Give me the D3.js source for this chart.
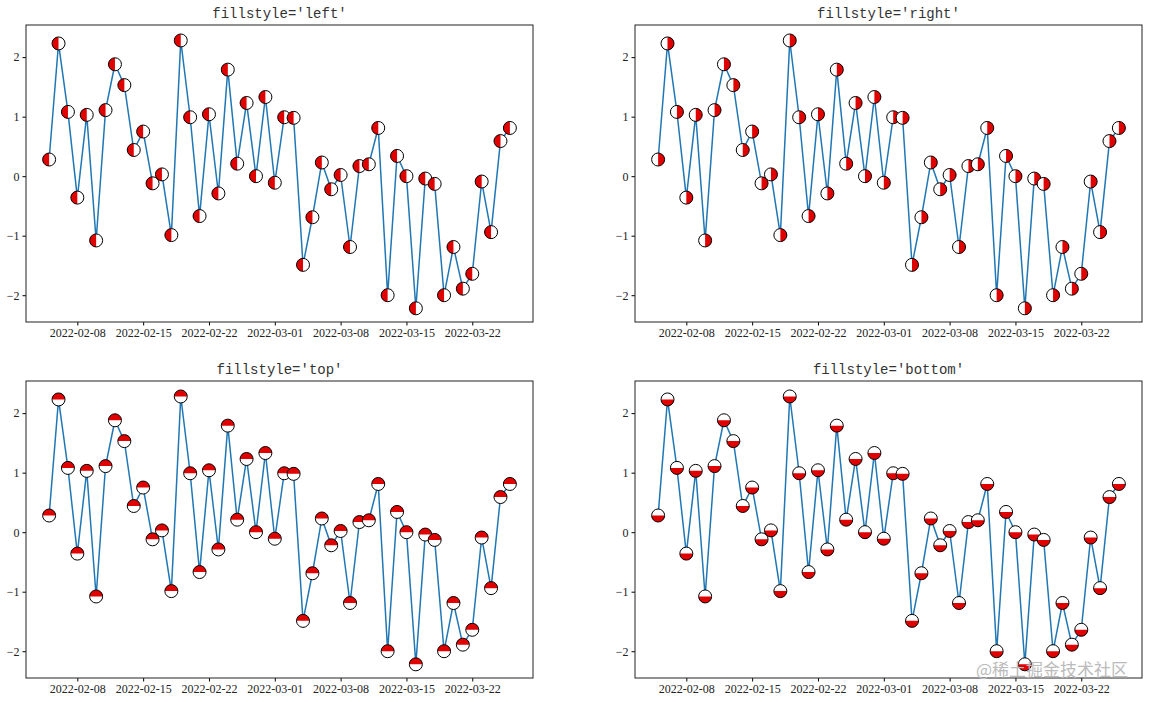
<!DOCTYPE html>
<html><head><meta charset="utf-8">
<script src="https://cdn.jsdelivr.net/npm/d3@7"></script>
<style>body{margin:0;background:#fff}text{font-family:"Liberation Serif","DejaVu Serif",serif}</style>
</head><body><svg id="chart" width="1149" height="702"></svg>
<script>
const startDate = "2022-02-05";
const values = [0.28, 2.23, 1.08, -0.36, 1.03, -1.08, 1.11, 1.88, 1.53, 0.44,
  0.75, -0.12, 0.03, -0.99, 2.28, 0.99, -0.67, 1.04, -0.29, 1.79,
  0.21, 1.23, 0.0, 1.33, -0.11, 0.99, 0.98, -1.49, -0.69, 0.23,
  -0.22, 0.02, -1.19, 0.17, 0.2, 0.81, -2.0, 0.34, 0.0, -2.22,
  -0.04, -0.13, -2.0, -1.19, -1.89, -1.64, -0.09, -0.94, 0.59, 0.81];
const fillstyles = ["left", "right", "top", "bottom"];
const xTicks = ["2022-02-08", "2022-02-15", "2022-02-22", "2022-03-01", "2022-03-08", "2022-03-15", "2022-03-22"];
const yTicks = [-2, -1, 0, 1, 2];

const parse = d3.utcParse("%Y-%m-%d");
const t0 = parse(startDate);
const data = values.map((v, i) => ({date: d3.utcDay.offset(t0, i), value: v}));

const svg = d3.select("#chart");
const panels = [
  {x: 26, y: 25}, {x: 635, y: 25}, {x: 26, y: 381}, {x: 635, y: 381}
];
const W = 507, H = 297;
// red half angles for d3.arc (0 = top, clockwise)
const halves = {
  left: [Math.PI, 2 * Math.PI], right: [0, Math.PI],
  top: [-Math.PI / 2, Math.PI / 2], bottom: [Math.PI / 2, 3 * Math.PI / 2]
};
const r = 6.5;

fillstyles.forEach((fs, k) => {
  const p = panels[k];
  const g = svg.append("g").attr("transform", `translate(${p.x},${p.y})`);
  const x = d3.scaleUtc()
    .domain([d3.utcHour.offset(data[0].date, -59), d3.utcHour.offset(data[data.length - 1].date, 59)])
    .range([0, W]);
  const y = d3.scaleLinear().domain([-2.45, 2.54]).range([H, 0]);

  g.append("g").attr("transform", `translate(0,${H})`)
    .call(d3.axisBottom(x).tickValues(xTicks.map(parse)).tickFormat(d3.utcFormat("%Y-%m-%d")).tickSize(3.5))
    .call(a => a.select(".domain").remove())
    .selectAll("text").attr("font-size", 12).attr("fill", "#222");
  g.append("g")
    .call(d3.axisLeft(y).tickValues(yTicks).tickFormat(d => d < 0 ? "\u2212" + (-d) : d).tickSize(3.5))
    .call(a => a.select(".domain").remove())
    .selectAll("text").attr("font-size", 12).attr("fill", "#222");
  g.append("rect").attr("width", W).attr("height", H)
    .attr("fill", "none").attr("stroke", "#222").attr("stroke-width", 1);

  g.append("path").datum(data)
    .attr("fill", "none").attr("stroke", "#1f77b4").attr("stroke-width", 1.5)
    .attr("d", d3.line().x(d => x(d.date)).y(d => y(d.value)));

  const arc = d3.arc().innerRadius(0).outerRadius(r)
    .startAngle(halves[fs][0]).endAngle(halves[fs][1]);
  const m = g.selectAll(".mk").data(data).join("g")
    .attr("transform", d => `translate(${x(d.date)},${y(d.value)})`);
  m.append("circle").attr("r", r).attr("fill", "#fff");
  m.append("path").attr("d", arc).attr("fill", "#e00000");
  m.append("circle").attr("r", r).attr("fill", "none").attr("stroke", "#000").attr("stroke-width", 1);

  g.append("text").attr("x", W / 2).attr("y", -7).attr("text-anchor", "middle")
    .attr("font-size", 14).attr("fill", "#333")
    .style("font-family", "'Liberation Mono','DejaVu Sans Mono',monospace")
    .text(`fillstyle='${fs}'`);
});

svg.append("text").attr("x", 1128).attr("y", 676).attr("text-anchor", "end")
  .attr("font-size", 17).attr("fill", "#bbb").style("font-family", "'Noto Sans CJK SC',sans-serif")
  .text("@稀土掘金技术社区");
</script></body></html>
